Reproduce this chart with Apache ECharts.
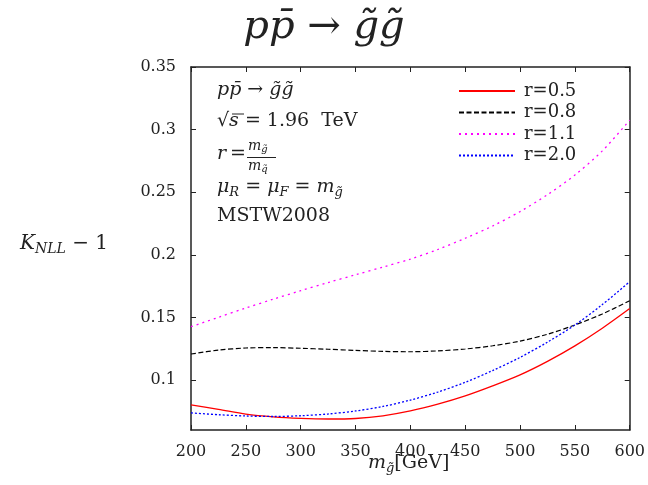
<!DOCTYPE html>
<html><head><meta charset="utf-8">
<script src="https://cdn.jsdelivr.net/npm/echarts@6/dist/echarts.min.js"></script>
<style>html,body{margin:0;padding:0;background:#fff}#c{width:648px;height:485px}</style>
</head><body><div id="c"></div>
<script>
const masses = [200,225,250,275,300,325,350,375,400,425,450,475,500,525,550,575,600];
const r05 = [0.080,0.0765,0.0727,0.0705,0.0693,0.0688,0.0692,0.0713,0.0752,0.0806,0.0872,0.0952,0.104,0.1148,0.1272,0.1413,0.157];
const r08 = [0.1207,0.1238,0.1255,0.1258,0.1253,0.1245,0.1236,0.1228,0.1225,0.1232,0.1247,0.1273,0.131,0.1365,0.1439,0.1527,0.1633];
const r11 = [0.1425,0.150,0.1575,0.1645,0.1713,0.1778,0.1840,0.1902,0.1965,0.2042,0.2132,0.2230,0.2345,0.2480,0.2637,0.2830,0.3076];
const r20 = [0.0737,0.0722,0.0712,0.0708,0.0714,0.0728,0.0752,0.0788,0.0839,0.0903,0.0981,0.1075,0.118,0.1302,0.1439,0.1602,0.1785];
const seriesNames = ['r=0.5','r=0.8','r=1.1','r=2.0'];
const yTicks = [0.1,0.15,0.2,0.25,0.3,0.35];

const F = 'DejaVu Serif';
const C = '#222';
const chart = echarts.init(document.getElementById('c'));
const pair = a => masses.map((m,i)=>[m,a[i]]);
const axisCommon = {
  axisLine:{show:true,lineStyle:{color:C,width:1.5}},
  axisTick:{show:true,inside:true,length:5,lineStyle:{color:C,width:1}},
  splitLine:{show:false}
};
const yTick = {axisTick:{show:true,inside:true,length:5,customValues:yTicks,lineStyle:{color:C,width:1}}};
const mk = (name,data,color,type,w)=>({
  name, type:'line', data:pair(data), xAxisIndex:0, yAxisIndex:0,
  symbol:'none', showSymbol:false, smooth:0.3, lineStyle:{color, width:w, type}, itemStyle:{color}
});
const it = s=>({fontFamily:F,fontStyle:'italic',fontSize:s,fill:C});
const rm = s=>({fontFamily:F,fontSize:s,fill:C});
const sub = (s,p)=>({fontFamily:F,fontStyle:'italic',fontSize:s,fill:C,padding:[p,0,0,0]});
chart.setOption({
  animation:false,
  backgroundColor:'#fff',
  grid:{left:191,right:16,top:67,bottom:55},
  xAxis:[
    Object.assign({type:'value',min:200,max:600,interval:50,position:'bottom',
      axisLabel:{fontFamily:F,fontSize:16,color:C,margin:14}},axisCommon),
    Object.assign({type:'value',min:200,max:600,interval:50,position:'top',
      axisLabel:{show:false}},axisCommon)
  ],
  yAxis:[
    Object.assign({type:'value',min:0.06,max:0.35,position:'left',
      axisLabel:{fontFamily:F,fontSize:16,color:C,margin:15,customValues:yTicks}},axisCommon,yTick),
    Object.assign({type:'value',min:0.06,max:0.35,position:'right',
      axisLabel:{show:false}},axisCommon,yTick)
  ],
  legend:{
    orient:'vertical', left:453, top:77, itemWidth:56, itemHeight:14, itemGap:3.5,
    data:seriesNames,
    itemStyle:{opacity:0},
    textStyle:{fontFamily:F,fontSize:18,lineHeight:14,color:C,padding:[0,0,0,4]}
  },
  series:[
    mk(seriesNames[0],r05,'#ff0000','solid',1.3),
    mk(seriesNames[1],r08,'#000000',[5,2.5],1.2),
    mk(seriesNames[2],r11,'#ff00ff',[2,4],1.3),
    mk(seriesNames[3],r20,'#0000ff',[2,2],1.3)
  ],
  graphic:[
    {type:'text',left:'center',top:8,style:{
      text:'{i|pp̄}{n| → }{i|g̃g̃}',
      rich:{i:it(40),n:rm(40)}}},
    {type:'text',left:217,top:81,style:{
      text:'{i|pp̄}{n| → }{i|g̃g̃}',
      rich:{i:it(19),n:rm(19)}}},
    {type:'text',left:217,top:112,style:{
      text:'{n|√}{i|s}{n| = 1.96  TeV}',
      rich:{n:rm(19),i:it(19)}}},
    {type:'line',shape:{x1:232,y1:114,x2:244,y2:114},style:{stroke:C,lineWidth:1}},
    {type:'text',left:217,top:145,style:{text:'r',fontFamily:F,fontStyle:'italic',fontSize:19,fill:C}},
    {type:'text',left:230,top:145,style:{text:'=',fontFamily:F,fontSize:19,fill:C}},
    {type:'text',left:248,top:139,style:{
      text:'{i|m}{s|g̃}',
      rich:{i:it(14),s:sub(10,6)}}},
    {type:'line',shape:{x1:247,y1:157.5,x2:276,y2:157.5},style:{stroke:C,lineWidth:1}},
    {type:'text',left:248,top:159,style:{
      text:'{i|m}{s|q̃}',
      rich:{i:it(14),s:sub(10,6)}}},
    {type:'text',left:217,top:178,style:{
      text:'{i|μ}{s|R}{n| = }{i|μ}{s|F}{n| = }{i|m}{s|g̃}',
      rich:{i:it(19),n:rm(19),s:sub(13,10)}}},
    {type:'text',left:217,top:207,style:{text:'MSTW2008',fontFamily:F,fontSize:19,fill:C}},
    {type:'text',left:20,top:234,style:{
      text:'{i|K}{s|NLL}{n| − 1}',
      rich:{i:it(20),n:rm(20),s:sub(14,10)}}},
    {type:'text',left:368,top:454,style:{
      text:'{i|m}{s|g̃}{n|[GeV]}',
      rich:{i:it(19),n:rm(19),s:sub(13,10)}}}
  ]
});
</script></body></html>
